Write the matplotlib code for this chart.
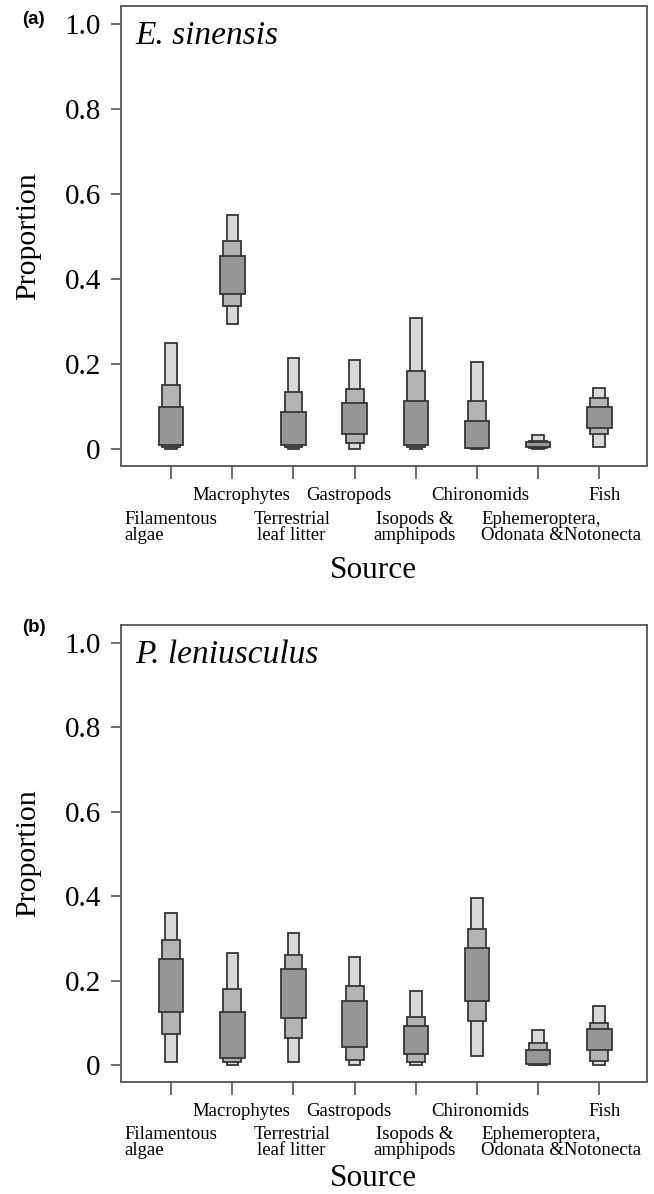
import matplotlib
matplotlib.use("Agg")
import matplotlib.pyplot as plt
import matplotlib.transforms as mtransforms

# ---------------- data ----------------
categories = ["Filamentous\nalgae", "Macrophytes", "Terrestrial\nleaf litter", "Gastropods",
              "Isopods &\namphipods", "Chironomids", "Ephemeroptera,\nOdonata &Notonecta", "Fish"]
positions = [1, 2, 3, 4, 5, 6, 7, 8]

# panel (a) E. sinensis : credible intervals (95 %, 75 %, 50 %)
lo95_a = [0.001, 0.294, 0.001, 0.001, 0.001, 0.001, 0.000, 0.005]
hi95_a = [0.250, 0.551, 0.214, 0.209, 0.309, 0.204, 0.033, 0.143]
lo75_a = [0.004, 0.337, 0.004, 0.014, 0.004, 0.002, 0.002, 0.035]
hi75_a = [0.151, 0.489, 0.134, 0.141, 0.184, 0.112, 0.019, 0.121]
lo50_a = [0.009, 0.365, 0.009, 0.035, 0.009, 0.003, 0.004, 0.050]
hi50_a = [0.098, 0.454, 0.088, 0.109, 0.112, 0.066, 0.017, 0.100]

# panel (b) P. leniusculus
lo95_b = [0.008, 0.000, 0.008, 0.000, 0.000, 0.022, 0.000, 0.000]
hi95_b = [0.361, 0.264, 0.313, 0.256, 0.176, 0.395, 0.082, 0.140]
lo75_b = [0.074, 0.006, 0.065, 0.012, 0.007, 0.103, 0.001, 0.010]
hi75_b = [0.296, 0.181, 0.261, 0.186, 0.114, 0.322, 0.051, 0.100]
lo50_b = [0.126, 0.016, 0.112, 0.042, 0.026, 0.152, 0.002, 0.035]
hi50_b = [0.252, 0.125, 0.228, 0.152, 0.092, 0.276, 0.035, 0.085]

yticks = [0, 0.2, 0.4, 0.6, 0.8, 1.0]
yticklabels = ["0", "0.2", "0.4", "0.6", "0.8", "1.0"]

# label placement (x in data units)
label_x = [0.24, 2.15, 2.97, 3.91, 4.98, 6.05, 6.07, 8.08]
label_ha = ["left", "center", "center", "center", "center", "center", "left", "center"]

# ---------------- style ----------------
SERIF = ["Liberation Serif", "DejaVu Serif"]
LIGHT, MED, DARK = "#d9d9d9", "#b3b3b3", "#969696"
EDGE = "#363636"
SPINE = "#555555"

W, H = 654, 1194
fig = plt.figure(figsize=(W / 100, H / 100), dpi=100)


def px2fig_y(py):
    return 1 - py / H


def make_panel(top_px, bottom_px, lo95, hi95, lo75, hi75, lo50, hi50, title, tag, tag_y,
               source_off):
    left_px, right_px = 121, 647
    ax = fig.add_axes([left_px / W, px2fig_y(bottom_px), (right_px - left_px) / W,
                       (bottom_px - top_px) / H])
    for lo, hi, w, c in [(lo95, hi95, 0.19, LIGHT), (lo75, hi75, 0.29, MED),
                         (lo50, hi50, 0.40, DARK)]:
        ax.bar(positions, [h - l for l, h in zip(lo, hi)], bottom=lo, width=w, color=c,
               edgecolor=EDGE, linewidth=1.3, zorder=3)
    ax.set_xlim(0.18, 8.78)
    ax.set_ylim(-0.041, 1.0426)
    ax.set_yticks(yticks)
    ax.set_yticklabels(yticklabels, family=SERIF, fontsize=21)
    ax.set_xticks(positions)
    ax.set_xticklabels([])
    ax.tick_params(axis="y", length=7.5, width=1.2, color=SPINE, pad=7)
    ax.tick_params(axis="x", length=9, width=1.2, color=SPINE)
    for s in ax.spines.values():
        s.set_color(SPINE)
        s.set_linewidth(1.3)
    ax.text(0.027, 0.935, title, transform=ax.transAxes, family=SERIF, style="italic",
            fontsize=24, va="center", ha="left")
    fig.text(22 / W, px2fig_y(tag_y), tag, family=["Liberation Sans", "DejaVu Sans"],
             fontweight="bold", fontsize=13.5, ha="left", va="center")
    fig.text(28 / W, px2fig_y((top_px + bottom_px) / 2), "Proportion", family=SERIF,
             fontsize=21.5, rotation=90, ha="center", va="center")
    trans = mtransforms.blended_transform_factory(ax.transData, fig.transFigure)
    for i, lab in enumerate(categories):
        lines = lab.split("\n")
        if i % 2 == 1:
            base = [34]
        else:
            base = [57, 73]
        for ln, b in zip(lines, base):
            ax.text(label_x[i], px2fig_y(bottom_px + b), ln, transform=trans, family=SERIF,
                    fontsize=13.5, ha=label_ha[i], va="baseline")
    ax.text(4.31, px2fig_y(bottom_px + source_off), "Source", transform=trans,
            family=SERIF, fontsize=22.5, ha="center", va="baseline")
    return ax


make_panel(6, 466.5, lo95_a, hi95_a, lo75_a, hi75_a, lo50_a, hi50_a,
           "E. sinensis", "(a)", 19, 112)
make_panel(624.7, 1082.3, lo95_b, hi95_b, lo75_b, hi75_b, lo50_b, hi50_b,
           "P. leniusculus", "(b)", 628, 104)

fig.savefig("out.png", dpi=100)
